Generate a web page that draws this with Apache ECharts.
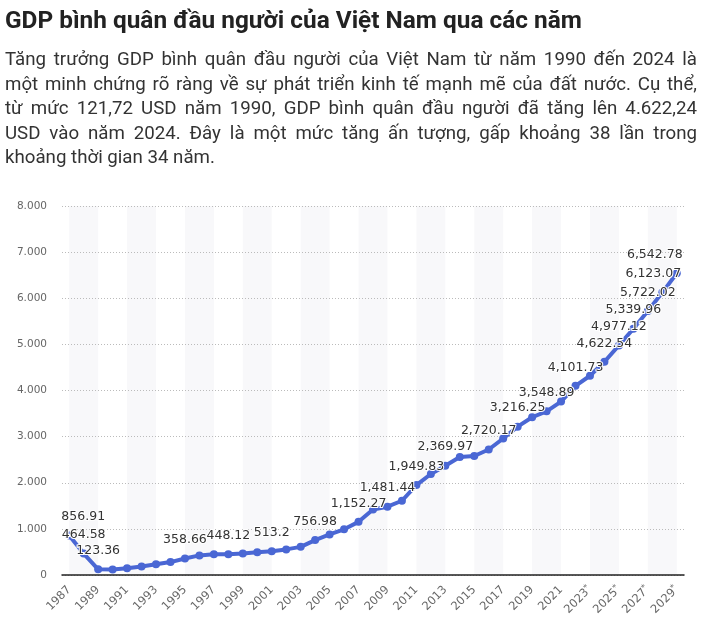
<!DOCTYPE html>
<html>
<head>
<meta charset="utf-8">
<script src="https://cdn.jsdelivr.net/npm/echarts@6/dist/echarts.min.js"></script>
<style>
html,body{margin:0;padding:0;background:#fff;}
#wrap{position:relative;width:702px;height:633px;}
#chart{position:absolute;left:0;top:0;width:702px;height:633px;}
#para{position:absolute;left:5px;top:47px;width:692px;font-family:Roboto,sans-serif;color:#333;line-height:24.5px;}
#para div{text-align:justify;text-align-last:justify;white-space:nowrap;}
#para div.last{text-align:left;text-align-last:left;}
</style>
</head>
<body>
<div id="wrap">
<div id="chart"></div>
<div id="para"></div>
</div>
<script>
// ---- data ----
const titleText = 'GDP bình quân đầu người của Việt Nam qua các năm';
const paragraphLines = [
  'Tăng trưởng GDP bình quân đầu người của Việt Nam từ năm 1990 đến 2024 là',
  'một minh chứng rõ ràng về sự phát triển kinh tế mạnh mẽ của đất nước. Cụ thể,',
  'từ mức 121,72 USD năm 1990, GDP bình quân đầu người đã tăng lên 4.622,24',
  'USD vào năm 2024. Đây là một mức tăng ấn tượng, gấp khoảng 38 lần trong',
  'khoảng thời gian 34 năm.'
];
const years = ['1987','1988','1989','1990','1991','1992','1993','1994','1995','1996',
  '1997','1998','1999','2000','2001','2002','2003','2004','2005','2006',
  '2007','2008','2009','2010','2011','2012','2013','2014','2015','2016',
  '2017','2018','2019','2020','2021','2022','2023*','2024*','2025*','2026*',
  '2027*','2028*','2029*'];
const gdpPerCapita = [856.91,464.58,123.36,121.72,145,185,235,280,358.66,425,
  450,448.12,465,495,513.2,555,610,756.98,880,990,
  1152.27,1420,1481.44,1610,1949.83,2190,2369.97,2560,2580,2720.17,
  2960,3216.25,3420,3548.89,3760,4101.73,4320,4622.54,4977.12,5339.96,
  5722.02,6123.07,6542.78];
const labeledYears = ['1987','1988','1989','1995','1998','2001','2004','2007','2009','2011',
  '2013','2016','2018','2020','2022','2024*','2025*','2026*','2027*','2028*','2029*'];
const shadedBands = [['1987','1989'],['1991','1993'],['1995','1997'],['1999','2001'],
  ['2003','2005'],['2007','2009'],['2011','2013'],['2015','2017'],['2019','2021'],
  ['2023*','2025*'],['2027*','2029*']];
const yTicks = [0,1000,2000,3000,4000,5000,6000,7000,8000];

const labelShift = {'1987': 14, '2028*': -9, '2029*': -22};

const seriesData = gdpPerCapita.map((v, i) => {
  const y = years[i];
  const item = { value: v };
  if (labeledYears.indexOf(y) >= 0) {
    item.label = { show: true, offset: [labelShift[y] || 0, 0] };
  }
  return item;
});

const fmtLabel = v => v.toLocaleString('en-US', {maximumFractionDigits: 2});
const fmtAxis = v => String(v).replace(/\B(?=(\d{3})+(?!\d))/g, '.');

// fit font sizes to the reference text widths
const mctx = document.createElement('canvas').getContext('2d');
function measure(text, weight, family) {
  mctx.font = weight + ' 100px ' + family;
  return mctx.measureText(text).width;
}
function fitSize(text, weight, family, target, fallback) {
  const w = measure(text, weight, family);
  if (!w) return fallback;
  const s = target / w * 100;
  return Math.max(fallback - 4, Math.min(fallback + 4, s));
}
const titleSize = fitSize(titleText, 'bold', 'Roboto', 577, 24);
let maxW = 0;
paragraphLines.forEach(l => { maxW = Math.max(maxW, measure(l, 'normal', 'Roboto')); });
const paraSize = maxW ? Math.min(18.7, 686 / maxW * 100) : 18.5;

const para = document.getElementById('para');
para.style.fontSize = paraSize + 'px';
paragraphLines.forEach((l, i) => {
  const d = document.createElement('div');
  d.textContent = l;
  if (i === paragraphLines.length - 1) d.className = 'last';
  para.appendChild(d);
});

const chart = echarts.init(document.getElementById('chart'), null, {renderer: 'canvas'});
chart.setOption({
  animation: false,
  backgroundColor: '#fff',
  title: [{
    text: titleText,
    left: 0, top: 5,
    textStyle: {fontFamily: 'Roboto', fontWeight: 'bold', fontSize: titleSize, color: '#222'}
  }],
  grid: {left: 62, right: 18, top: 206, bottom: 58, containLabel: false},
  xAxis: {
    type: 'category',
    data: years,
    boundaryGap: true,
    axisLine: {show: true, lineStyle: {color: '#222', width: 1.5}},
    axisTick: {show: false},
    axisLabel: {
      interval: 1, rotate: 45, color: '#666', fontSize: 11.5, fontFamily: 'DejaVu Sans', margin: 13,
      formatter: v => v.indexOf('*') >= 0 ? v.replace('*', '') + '{s|*}' : v,
      rich: {s: {fontSize: 8, color: '#666', verticalAlign: 'top', padding: [0, 0, 6, 0]}}
    },
    splitArea: {show: false}
  },
  yAxis: {
    type: 'value',
    min: yTicks[0], max: yTicks[yTicks.length - 1], interval: 1000,
    axisLine: {show: false},
    axisTick: {show: false},
    axisLabel: {color: '#666', fontSize: 10.5, fontFamily: 'DejaVu Sans', margin: 15, formatter: fmtAxis},
    splitLine: {show: true, lineStyle: {color: '#bbb', type: [1, 2], width: 1}}
  },
  series: [{
    type: 'line',
    data: seriesData,
    symbol: 'circle',
    symbolSize: 8,
    lineStyle: {color: '#4a67d4', width: 4},
    itemStyle: {color: '#4a67d4'},
    label: {
      show: false,
      position: 'top',
      distance: 8,
      color: '#333',
      fontFamily: 'DejaVu Sans',
      fontSize: 12.5,
      textBorderColor: '#fff',
      textBorderWidth: 2,
      formatter: p => fmtLabel(p.value)
    },
    markArea: {
      silent: true,
      itemStyle: {color: '#f8f8fa'},
      label: {show: false},
      z: -1,
      data: shadedBands.map(b => [{xAxis: b[0]}, {xAxis: b[1]}])
    },
    z: 3
  }]
});
</script>
</body>
</html>
